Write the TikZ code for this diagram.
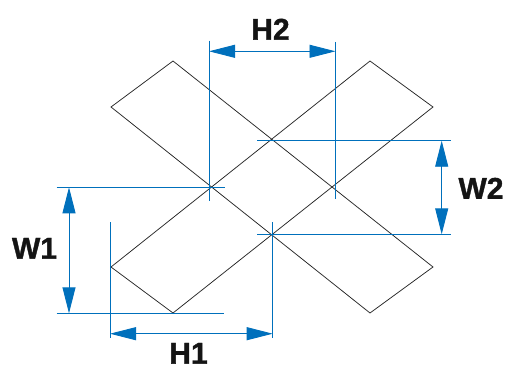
\documentclass[tikz,border=0pt]{standalone}
\usepackage{fontspec}
\setmainfont{Liberation Sans}
\newfontfamily\dimfont{Liberation Sans}[UprightFont={* Bold},FakeBold=1.2]
\usetikzlibrary{arrows.meta}
\definecolor{dimblue}{RGB}{0,112,188}
\tikzset{
  shape line/.style={draw=black!85, line width=0.75pt, line join=miter},
  ext line/.style={draw=dimblue, line width=0.9pt},
  dim line/.style={draw=dimblue, line width=0.9pt,
    {Triangle[length=26pt,width=13pt]}-{Triangle[length=26pt,width=13pt]}},
  dim label/.style={font=\dimfont\fontsize{30}{30}\selectfont, text=black!92, inner sep=0pt}
}
\begin{document}
\begin{tikzpicture}[x=1pt,y=-1pt]
\useasboundingbox (0,0) rectangle (512,369);
% band vertices
\coordinate (A1) at (111,107);
\coordinate (A2) at (173,61);
\coordinate (A3) at (433,267);
\coordinate (A4) at (370,313);
\coordinate (B1) at (370,61);
\coordinate (B2) at (433,107);
\coordinate (B3) at (173,313);
\coordinate (B4) at (111,267);
\draw[shape line] (A1) -- (A2) -- (A3) -- (A4) -- cycle;
\draw[shape line] (B1) -- (B2) -- (B3) -- (B4) -- cycle;
% extension lines
\coordinate (h2lt) at (209,40.7);  \coordinate (h2lb) at (209,201);
\coordinate (h2rt) at (335.5,42);  \coordinate (h2rb) at (335.5,199.3);
\coordinate (w2tl) at (257,140.7); \coordinate (w2tr) at (451,140.7);
\coordinate (w2bl) at (257,234.3); \coordinate (w2br) at (451,234.3);
\coordinate (w1tl) at (56.7,187.3); \coordinate (w1tr) at (225,187.3);
\coordinate (w1bl) at (56.7,313.3); \coordinate (w1br) at (224,313.3);
\coordinate (h1lt) at (110,222.3); \coordinate (h1lb) at (110,338.3);
\coordinate (h1rt) at (272.7,222.3); \coordinate (h1rb) at (272.7,338.3);
\foreach \a/\b in {h2lt/h2lb,h2rt/h2rb,w2tl/w2tr,w2bl/w2br,w1tl/w1tr,w1bl/w1br,h1lt/h1lb,h1rt/h1rb}
  \draw[ext line] (\a) -- (\b);
% dimension arrows
\coordinate (h2a) at (209,51.3);   \coordinate (h2b) at (335.5,51.3);
\coordinate (w2a) at (441.7,140.7); \coordinate (w2b) at (441.7,234.3);
\coordinate (w1a) at (69,187.3);   \coordinate (w1b) at (69,313.3);
\coordinate (h1a) at (110,333.7);  \coordinate (h1b) at (272.7,333.7);
\draw[dim line] (h2a) -- (h2b);
\draw[dim line] (w2a) -- (w2b);
\draw[dim line] (w1a) -- (w1b);
\draw[dim line] (h1a) -- (h1b);
% labels
\node[dim label] (H2) at (270.5,29.2) {H2};
\node[dim label] (W2) at (481,188.3) {W2};
\node[dim label] (W1) at (34.5,248.3) {W1};
\node[dim label] (H1) at (188.5,353.3) {H1};
\end{tikzpicture}
\end{document}
